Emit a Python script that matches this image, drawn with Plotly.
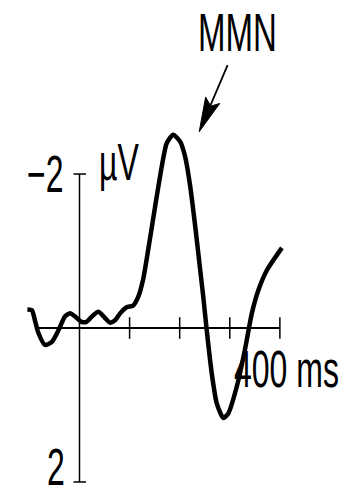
import plotly.graph_objects as go

# ERP waveform (difference wave), time in ms, amplitude in microvolts (negative up)
time_ms = [-104, -95, -89, -82, -69, -55, -42, -29, -19, -9, 4, 14, 28, 38, 51, 61, 71, 81,
           94, 107, 117, 127, 137, 151, 164, 174, 187, 201, 211, 221, 231, 241, 247, 254,
           264, 274, 287, 297, 314, 330, 344, 357, 374, 404]
amplitude_uv = [-0.24, -0.23, -0.10, 0.065, 0.22, 0.18, 0.03, -0.15, -0.19, -0.15, -0.08, -0.08,
                -0.17, -0.21, -0.13, -0.07, -0.10, -0.19, -0.27, -0.29, -0.40, -0.63, -1.01,
                -1.58, -2.09, -2.40, -2.51, -2.42, -2.22, -1.84, -1.32, -0.75, -0.41, 0.03,
                0.59, 0.98, 1.17, 1.11, 0.76, 0.29, -0.19, -0.49, -0.75, -1.04]

x_axis_start = -82
x_ticks = [100, 200, 300, 400]
y_ticks = [-2, 2]
y_tick_labels = ["\u22122", "2"]
x_label = "400 ms"
y_unit = "\u00b5V"
peak_label = "MMN"
arrow_tip = (239, -2.55)   # where the MMN arrow points (ms, µV)

fig = go.Figure()

fig.add_trace(go.Scatter(x=time_ms, y=amplitude_uv, mode="lines",
                         line=dict(color="black", width=4.5, shape="spline", smoothing=0.6),
                         hoverinfo="skip", showlegend=False))

shapes = []
# horizontal time axis
shapes.append(dict(type="line", xref="x", yref="y", x0=x_axis_start, x1=x_ticks[-1], y0=0, y1=0,
                   line=dict(color="black", width=2)))
for t in x_ticks:
    shapes.append(dict(type="line", xref="x", yref="y", x0=t, x1=t, y0=-0.14, y1=0.14,
                       line=dict(color="black", width=1.5)))
# vertical amplitude axis
shapes.append(dict(type="line", xref="x", yref="y", x0=0, x1=0, y0=y_ticks[0], y1=y_ticks[-1],
                   line=dict(color="black", width=1.5)))
for v in y_ticks:
    shapes.append(dict(type="line", xref="x", yref="y", x0=-12, x1=13, y0=v, y1=v,
                       line=dict(color="black", width=1.5)))

# arrow head (pixel-sized, anchored at the arrow tip)
shapes.append(dict(type="path", xref="x", yref="y", xsizemode="pixel", ysizemode="pixel",
                   xanchor=arrow_tip[0], yanchor=arrow_tip[1],
                   path="M0,0 L20.5,28.2 L11.5,25.5 L6.4,34.6 Z",
                   fillcolor="black", line=dict(color="black", width=1)))

font = dict(family="Liberation Sans, Arial, sans-serif", size=32, color="black")
annotations = [
    dict(x=-28, y=y_ticks[0], text=y_tick_labels[0], xanchor="right", yanchor="middle",
         showarrow=False, font=font),
    dict(x=-25, y=1.81, text=y_tick_labels[1], xanchor="right", yanchor="middle",
         showarrow=False, font=font),
    dict(x=35, y=-2.16, text=y_unit, xanchor="left", yanchor="middle",
         showarrow=False, font=font),
    dict(x=304, y=0.53, text=x_label, xanchor="left", yanchor="middle",
         showarrow=False, font=font),
    dict(x=233, y=-3.84, text=peak_label, xanchor="left", yanchor="middle",
         showarrow=False, font=dict(family=font["family"], size=33, color="black")),
    dict(x=arrow_tip[0], y=arrow_tip[1], text="", showarrow=True, ax=29, ay=-68, arrowhead=0,
         arrowwidth=1.8, arrowcolor="black", standoff=8),
]

fig.update_layout(
    width=342, height=497, margin=dict(l=0, r=0, t=0, b=0),
    paper_bgcolor="white", plot_bgcolor="white",
    xaxis=dict(range=[-158.7, 524], visible=False, fixedrange=True),
    yaxis=dict(range=[2.195, -4.26], visible=False, fixedrange=True),
    shapes=shapes, annotations=annotations, showlegend=False,
)

post = """
document.querySelectorAll('.annotation-text').forEach(function(t){
  t.style.transformBox='fill-box';
  t.style.transformOrigin='center';
  t.style.transform='scaleY(1.6)';
});
"""
fig.write_html("out.html", post_script=post, config={"displayModeBar": False})
